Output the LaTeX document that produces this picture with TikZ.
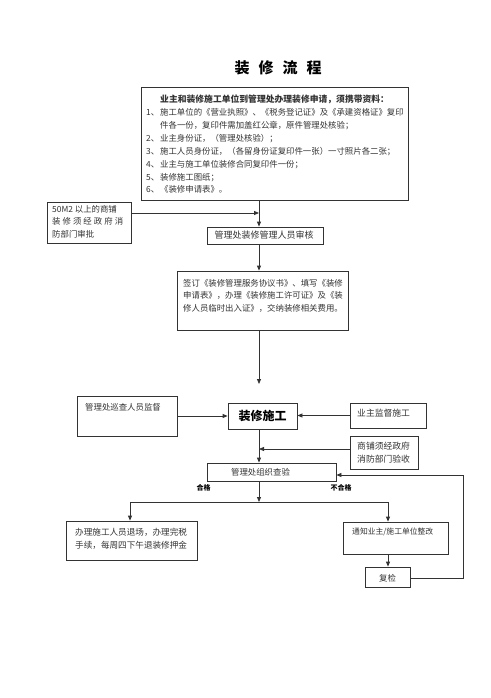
\documentclass[tikz,border=0pt]{standalone}
\usepackage{fontspec}
\setmainfont{Noto Sans CJK SC}
\newfontfamily\cjk{Noto Sans CJK SC}
\usetikzlibrary{arrows.meta}
\begin{document}
\begin{tikzpicture}[x=1pt,y=-1pt,
  box/.style={draw=black!80, line width=0.8pt, rectangle, inner sep=0pt},
  txt/.style={inner sep=0pt, align=left, text=black!80},
  arr/.style={draw=black!80, line width=0.8pt, -{Triangle[length=5pt,width=4pt]}},
  ln/.style={draw=black!80, line width=0.8pt},
  fs/.style={font=\cjk\fontsize{#1}{12.9}\selectfont}]
\useasboundingbox[fill=white] (0,0) rectangle (490,698);
% title
\node[txt, font=\cjk\bfseries\fontsize{15}{15}\selectfont, text=black] (title) at (278,68) {装\hspace{9pt}修\hspace{9pt}流\hspace{9pt}程};
% boxes
\node[box, minimum width=267pt, minimum height=113pt] (top) at (274.5,143.5) {};
\node[box, minimum width=84pt, minimum height=41pt] (A) at (89,222.5) {};
\node[box, minimum width=116pt, minimum height=17pt] (B) at (265,235.5) {};
\node[box, minimum width=171pt, minimum height=59pt] (C) at (262.5,300.5) {};
\node[box, minimum width=100pt, minimum height=40pt] (E) at (127,416) {};
\node[box, minimum width=69pt, minimum height=26pt] (D) at (262.5,416) {};
\node[box, minimum width=76pt, minimum height=25pt] (F) at (388,415.5) {};
\node[box, minimum width=68pt, minimum height=33pt] (G) at (384,452.5) {};
\node[box, minimum width=129pt, minimum height=18pt] (H) at (271.5,472) {};
\node[box, minimum width=131pt, minimum height=39pt] (I) at (131.5,540.5) {};
\node[box, minimum width=105pt, minimum height=32pt] (J) at (395.5,538) {};
\node[box, minimum width=45pt, minimum height=20pt] (K) at (387.5,577) {};
% texts
\node[txt, fs=8.4, anchor=north west] (toptext) at (146,94.8) {%
\hspace*{14pt}{\fontsize{8.8}{12.9}\selectfont\bfseries 业主和装修施工单位到管理处办理装修申请，须携带资料：}\\
\makebox[14pt][l]{1、}施工单位的《营业执照》、《税务登记证》及《承建资格证》复印\\
\hspace*{14pt}件各一份，复印件需加盖红公章，原件管理处核验；\\
\makebox[14pt][l]{2、}业主身份证，（管理处核验）；\\
\makebox[14pt][l]{3、}施工人员身份证，（各留身份证复印件一张）一寸照片各二张；\\
\makebox[14pt][l]{4、}业主与施工单位装修合同复印件一份；\\
\makebox[14pt][l]{5、}装修施工图纸；\\
\makebox[14pt][l]{6、}《装修申请表》。};
\node[txt, anchor=north west, font=\cjk\fontsize{8.4}{12.5}\selectfont] (Atext) at (52,204.8) {%
50M2 以上的商铺\\
\makebox[71pt][s]{装 修 须 经 政 府 消}\\
防部门审批};
\node[txt, fs=9] (Btext) at (264,235.5) {管理处装修管理人员审核};
\node[txt, anchor=north west, font=\cjk\fontsize{8.4}{12.7}\selectfont] (Ctext) at (183,278.8) {%
签订《装修管理服务协议书》、填写《装修\\
申请表》，办理《装修施工许可证》及《装\\
修人员临时出入证》，交纳装修相关费用。};
\node[txt, fs=8.4, anchor=west] (Etext) at (85,407) {管理处巡查人员监督};
\node[txt, font=\cjk\bfseries\fontsize{12}{12}\selectfont, text=black] (Dtext) at (262.5,416) {装修施工};
\node[txt, fs=8.8, anchor=west] (Ftext) at (357,413) {业主监督施工};
\node[txt, anchor=north west, font=\cjk\fontsize{8.8}{13}\selectfont] (Gtext) at (357,441.6) {商铺须经政府\\消防部门验收};
\node[txt, fs=8.4] (Htext) at (260.5,472) {管理处组织查验};
\node[txt, font=\cjk\bfseries\fontsize{7}{7}\selectfont, text=black] (pass) at (203.5,488) {合格};
\node[txt, font=\cjk\bfseries\fontsize{7}{7}\selectfont, text=black] (fail) at (341,488) {不合格};
\node[txt, anchor=north west, font=\cjk\fontsize{8.6}{13}\selectfont] (Itext) at (75,527.7) {%
办理施工人员退场，办理完税\\手续，每周四下午退装修押金};
\node[txt, fs=7.8, anchor=west] (Jtext) at (352,532) {通知业主/施工单位整改};
\node[txt, fs=8.4] (Ktext) at (387.5,578) {复检};
% connectors
\coordinate (sp) at (259,0);
\coordinate (j1) at (259,213);
\coordinate (g) at (259,384);
\coordinate (j2) at (259,449);
\coordinate (j3) at (259,502);
\coordinate (jl) at (130,502);
\coordinate (jr) at (388,502);
\coordinate (lp) at (463,578);
\coordinate (lq) at (463,475);
\draw[arr] (sp |- top.south) -- (sp |- B.north);
\draw[arr] (A.east |- j1) -- (j1);
\draw[arr] (sp |- B.south) -- (sp |- C.north);
\draw[arr] (sp |- C.south) -- (g);
\draw[arr] (E.east) -- (D.west);
\draw[arr] (F.west) -- (D.east |- F.west);
\draw[arr] (G.west |- j2) -- (j2);
\draw[arr] (sp |- D.south) -- (sp |- H.north);
\draw[arr] (sp |- H.south) -- (j3);
\draw[ln] (jl) -- (jr);
\draw[arr] (jl) -- (jl |- I.north);
\draw[arr] (jr) -- (jr |- J.north);
\draw[arr] (jr |- J.south) -- (jr |- K.north);
\draw[arr] (K.east |- lp) -- (lp) -- (lq) -- (H.east |- lq);
\end{tikzpicture}
\end{document}
